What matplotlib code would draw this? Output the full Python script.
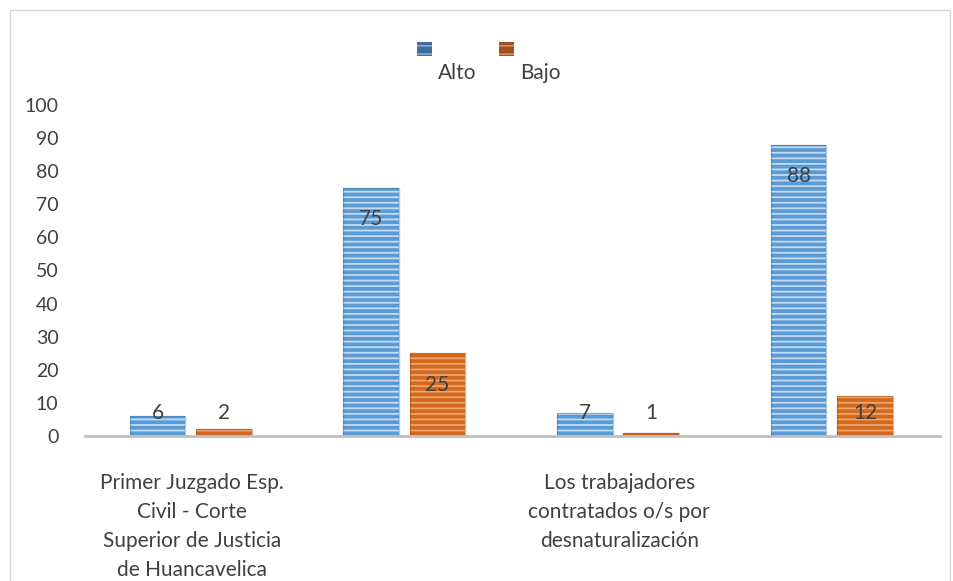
import numpy as np
import matplotlib.pyplot as plt
from matplotlib.patches import Rectangle

# Datos
categorias = ["Primer Juzgado Esp.\nCivil - Corte\nSuperior de Justicia\nde Huancavelica", "",
              "Los trabajadores\ncontratados o/s por\ndesnaturalización", ""]
alto = [6, 75, 7, 88]
bajo = [2, 25, 1, 12]
series = ["Alto", "Bajo"]
yticks = list(range(0, 101, 10))

plt.rcParams['font.family'] = ['Lato', 'DejaVu Sans']
plt.rcParams['hatch.linewidth'] = 1.3

fig = plt.figure(figsize=(9.54, 5.81), dpi=100)
ax = fig.add_axes([0.089, 0.2496, 0.896, 0.5697])

x = np.arange(len(categorias))
ancho = 0.26
col_alto = '#5b9bd5'
col_bajo = '#d2691e'
gris = '#404040'

b1 = ax.bar(x - 0.16, alto, ancho, color=col_alto, edgecolor='#c4dbf2', linewidth=0, hatch='---')
b2 = ax.bar(x + 0.15, bajo, ancho, color=col_bajo, edgecolor='#f2a56c', linewidth=0, hatch='---')
# sombreado lateral
for barras, sombra in [(b1, '#2e5f8f'), (b2, '#7a3a10')]:
    for r in barras:
        ax.add_patch(Rectangle((r.get_x(), 0), r.get_width(), r.get_height(), fill=False,
                               edgecolor=sombra, linewidth=1.0, alpha=0.35))

for xi, v in zip(x - 0.16, alto):
    ax.text(xi, max(v - 9.5, 6.8), str(v), ha='center', va='center', fontsize=15, color=gris)
for xi, v in zip(x + 0.15, bajo):
    ax.text(xi, max(v - 9.5, 6.8), str(v), ha='center', va='center', fontsize=15, color=gris)

ax.set_xlim(-0.5, 3.5)
ax.set_ylim(0, 100)
ax.set_yticks(yticks)
ax.set_yticklabels([str(t) for t in yticks], fontsize=14, color=gris)
ax.set_xticks(x)
ax.set_xticklabels(categorias, fontsize=15, color=gris, linespacing=1.55, va='top')
ax.tick_params(axis='both', length=0)
ax.tick_params(axis='x', pad=27)
ax.tick_params(axis='y', pad=19)
for s in ['top', 'right', 'left']:
    ax.spines[s].set_visible(False)
ax.spines['bottom'].set_color('#bfbfbf')
ax.spines['bottom'].set_linewidth(2)

# leyenda
for xl, xt, col, hc, nombre in [(417, 438, '#3d6d9b', '#8aa8c6', series[0]),
                                 (499, 520, '#a0501e', '#d08f63', series[1])]:
    fig.patches.append(Rectangle((xl / 954, 1 - 56 / 581), 15 / 954, 14 / 581, transform=fig.transFigure,
                                 facecolor=col, edgecolor=hc, linewidth=0, hatch='--'))
    fig.text(xt / 954, 1 - 73 / 581, nombre, fontsize=15, color=gris, ha='left', va='center')

# borde del gráfico
fig.patches.append(Rectangle((0.0105, -0.01), 0.985, 0.993, transform=fig.transFigure,
                             fill=False, edgecolor='#d9d9d9', linewidth=1))

fig.savefig('out.png', dpi=100)
